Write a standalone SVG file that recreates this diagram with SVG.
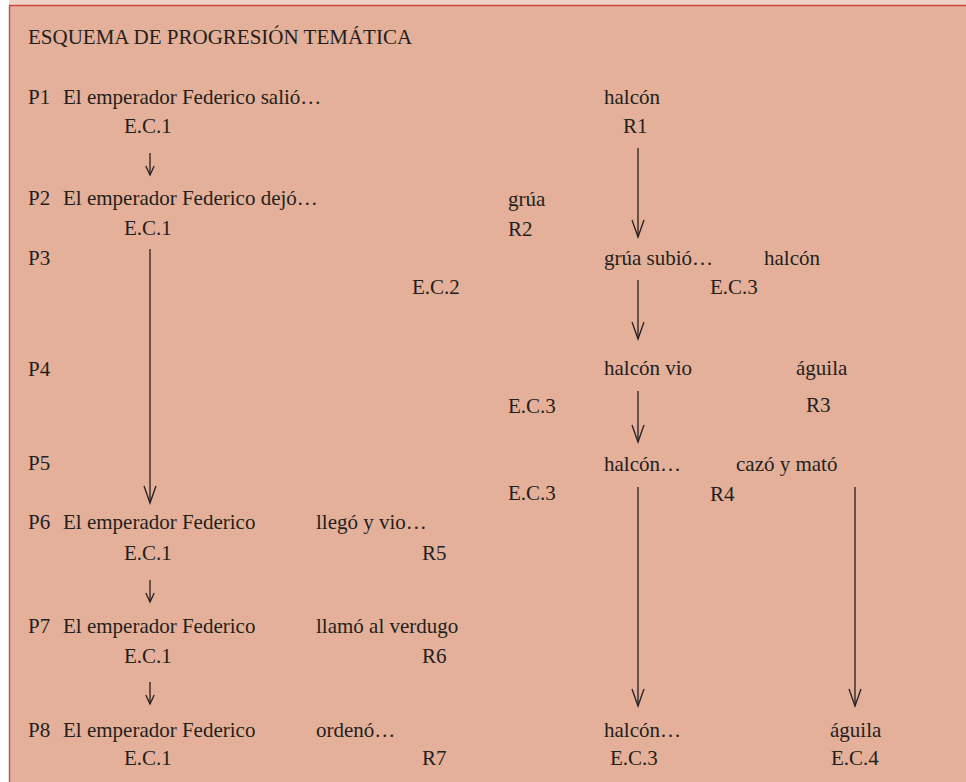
<svg xmlns="http://www.w3.org/2000/svg" width="966" height="782" viewBox="0 0 966 782">
<style>
text{font-family:"Liberation Serif","Times New Roman",serif;font-size:21px;fill:#231f20}
.c{stroke:#231f20;stroke-width:1.3;fill:none}
</style>
<defs>
<marker id="big" markerUnits="userSpaceOnUse" viewBox="-19 -8 21 16" markerWidth="21" markerHeight="16" refX="0" refY="0" orient="auto" overflow="visible">
<path d="M-17,-6 L0,0 L-17,6" fill="none" stroke="#231f20" stroke-width="1.3"/>
</marker>
<marker id="small" markerUnits="userSpaceOnUse" viewBox="-11 -6 13 12" markerWidth="13" markerHeight="12" refX="0" refY="0" orient="auto" overflow="visible">
<path d="M-9,-4.2 L0,0 L-9,4.2" fill="none" stroke="#231f20" stroke-width="1.3"/>
</marker>
</defs>
<rect x="0" y="0" width="966" height="782" fill="#ffffff"/>
<rect x="9" y="0" width="957" height="5" fill="#efd3c7"/>
<rect x="9" y="5" width="957" height="777" fill="#e4b09a"/>
<path d="M9.5,782 V5.5 H966" fill="none" stroke="#cc4a3c" stroke-width="1.4"/>

<g id="title"><text x="28" y="44">ESQUEMA DE PROGRESIÓN TEMÁTICA</text></g>

<g id="p1">
<text x="28" y="104">P1</text><text x="63" y="104">El emperador Federico salió…</text>
<text x="124" y="133">E.C.1</text>
</g>
<g id="p1-halcon"><text x="604" y="104">halcón</text><text x="623" y="133">R1</text></g>

<g id="p2">
<text x="28" y="205">P2</text><text x="63" y="205">El emperador Federico dejó…</text>
<text x="124" y="235">E.C.1</text>
</g>
<g id="p2-grua"><text x="508" y="206">grúa</text><text x="508" y="236">R2</text></g>

<g id="p3"><text x="28" y="265">P3</text></g>
<g id="p3-ec2"><text x="412" y="294">E.C.2</text></g>
<g id="p3-grua"><text x="604" y="265">grúa subió…</text></g>
<g id="p3-halcon"><text x="764" y="265">halcón</text><text x="710" y="294">E.C.3</text></g>

<g id="p4"><text x="28" y="376">P4</text></g>
<g id="p4-halcon"><text x="604" y="375">halcón vio</text><text x="508" y="413">E.C.3</text></g>
<g id="p4-aguila"><text x="796" y="375">águila</text><text x="806" y="412">R3</text></g>

<g id="p5"><text x="28" y="470">P5</text></g>
<g id="p5-halcon"><text x="604" y="471">halcón…</text><text x="508" y="500">E.C.3</text></g>
<g id="p5-cazo"><text x="736" y="471">cazó y mató</text><text x="710" y="501">R4</text></g>

<g id="p6">
<text x="28" y="529">P6</text><text x="63" y="529">El emperador Federico</text>
<text x="124" y="560">E.C.1</text>
</g>
<g id="p6-r5"><text x="316" y="529">llegó y vio…</text><text x="422" y="560">R5</text></g>

<g id="p7">
<text x="28" y="633">P7</text><text x="63" y="633">El emperador Federico</text>
<text x="124" y="663">E.C.1</text>
</g>
<g id="p7-r6"><text x="316" y="633">llamó al verdugo</text><text x="422" y="663">R6</text></g>

<g id="p8">
<text x="28" y="737">P8</text><text x="63" y="737">El emperador Federico</text>
<text x="124" y="765">E.C.1</text>
</g>
<g id="p8-r7"><text x="316" y="737">ordenó…</text><text x="422" y="765">R7</text></g>
<g id="p8-halcon"><text x="604" y="737">halcón…</text><text x="610" y="765">E.C.3</text></g>
<g id="p8-aguila"><text x="830" y="737">águila</text><text x="831" y="765">E.C.4</text></g>

<g id="connectors">
<line class="c" x1="150" y1="153" x2="150" y2="175" marker-end="url(#small)"/>
<line class="c" x1="150" y1="249" x2="150" y2="503" marker-end="url(#big)"/>
<line class="c" x1="150" y1="580" x2="150" y2="602" marker-end="url(#small)"/>
<line class="c" x1="150" y1="682" x2="150" y2="704" marker-end="url(#small)"/>
<line class="c" x1="638" y1="148" x2="638" y2="237" marker-end="url(#big)"/>
<line class="c" x1="638" y1="280" x2="638" y2="339" marker-end="url(#big)"/>
<line class="c" x1="638" y1="391" x2="638" y2="442" marker-end="url(#big)"/>
<line class="c" x1="638" y1="487" x2="638" y2="706" marker-end="url(#big)"/>
<line class="c" x1="855" y1="487" x2="855" y2="706" marker-end="url(#big)"/>
</g>
</svg>
